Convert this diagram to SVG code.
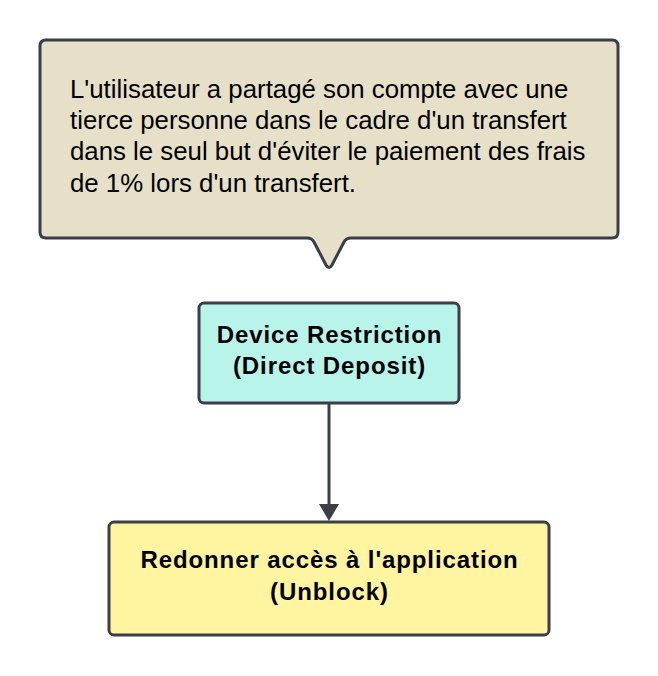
<svg xmlns="http://www.w3.org/2000/svg" width="658" height="676" viewBox="0 0 658 676">
<style>
.s{stroke:#3a3f47;stroke-width:3;stroke-linejoin:round}
.t{font-family:"Liberation Sans",Arial,sans-serif;font-size:25.8px;fill:#000}
.b{font-family:"Liberation Sans",Arial,sans-serif;font-size:24px;font-weight:bold;letter-spacing:0.9px;fill:#000;text-anchor:middle}
</style>
<rect width="658" height="676" fill="#fff"/>
<g id="callout">
<path class="s" fill="#e6e0c8" d="M46,40 H612 Q618,40 618,46 V232 Q618,238 612,238 H351 Q346,238 344,242 L332,265 Q329,270 326,265 L314,242 Q312,238 307,238 H46 Q40,238 40,232 V46 Q40,40 46,40 Z"/>
<text class="t" x="70" y="98">L'utilisateur a partagé son compte avec une</text>
<text class="t" x="70" y="129.2">tierce personne dans le cadre d'un transfert</text>
<text class="t" x="70" y="160.4">dans le seul but d'éviter le paiement des frais</text>
<text class="t" x="70" y="191.6">de 1% lors d'un transfert.</text>
</g>
<g id="connectors">
<line x1="329" y1="403" x2="329" y2="506" stroke="#3a3f47" stroke-width="3"/>
<path d="M319,504 L339,504 L329,521 Z" fill="#3a3f47"/>
</g>
<g id="device">
<rect class="s" x="199" y="303" width="260" height="100" rx="5" fill="#b8f4ea"/>
<text class="b" x="329.5" y="343">Device Restriction</text>
<text class="b" x="329.5" y="374">(Direct Deposit)</text>
</g>
<g id="unblock">
<rect class="s" x="109" y="522" width="440" height="113" rx="5" fill="#fff5a1"/>
<text class="b" x="329.5" y="568">Redonner accès à l'application</text>
<text class="b" x="329.5" y="600">(Unblock)</text>
</g>
</svg>
